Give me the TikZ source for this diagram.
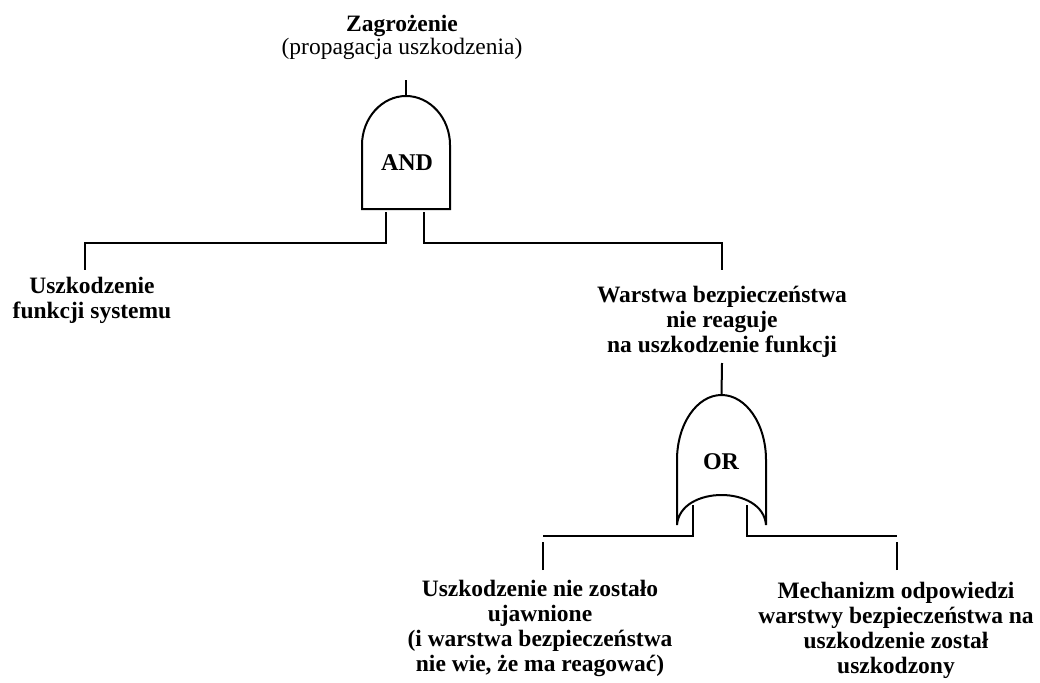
\documentclass[tikz,border=0pt]{standalone}
\usepackage{fontspec}
\setmainfont{Liberation Serif}

\begin{document}
\begin{tikzpicture}[x=1pt,y=-1pt,
    font=\fontsize{23.5}{25}\selectfont,
    line/.style={black,line width=2pt},
    event/.style={align=center,inner sep=0pt,font=\bfseries\fontsize{23.5}{25}\selectfont},
    gatetext/.style={inner sep=0pt,font=\bfseries\fontsize{24}{24}\selectfont}]

      \useasboundingbox (0,0) rectangle (1040,682);

      % AND gate
      \draw[line] (362,209) -- (362,145) .. controls (362,118) and (382,96) .. (406,96)
                  .. controls (430,96) and (450,118) .. (450,145) -- (450,209) -- cycle;
      \node[gatetext] (and) at (407,162.5) {AND};
      \coordinate (and-out) at (406,96);
      \coordinate (and-in1) at (386,212);
      \coordinate (and-in2) at (424,212);

      % OR gate
      \draw[line] (677,525) -- (677,460) .. controls (677,424) and (697,395) .. (721.5,395)
                  .. controls (746,395) and (766,424) .. (766,460) -- (766,525)
                  .. controls (763,485) and (680,485) .. cycle;
      \node[gatetext] (or) at (721,462) {OR};
      \coordinate (or-out) at (721.5,395);
      \coordinate (or-in1) at (693,505);
      \coordinate (or-in2) at (747,505);

      % events
      \node[event,anchor=north,font=\bfseries\fontsize{23.5}{23}\selectfont] (top) at (402,15) {Zagrożenie\\\mdseries (propagacja uszkodzenia)};
      \node[event,anchor=north] (ufs) at (92,277) {Uszkodzenie\\funkcji systemu};
      \node[event,anchor=north] (wbn) at (722,286) {Warstwa bezpieczeństwa\\nie reaguje\\na uszkodzenie funkcji};
      \node[event,anchor=north] (unz) at (540,580) {Uszkodzenie nie zostało\\ujawnione\\(i warstwa bezpieczeństwa\\nie wie, że ma reagować)};
      \node[event,anchor=north] (mow) at (896,582) {Mechanizm odpowiedzi\\warstwy bezpieczeństwa na\\uszkodzenie został\\uszkodzony};

      \coordinate (top-end) at (406,80);
      \coordinate (ufs-end) at (85,270);
      \coordinate (wbn-end) at (722,270);
      \coordinate (wbn-out) at (722,363);
      \coordinate (unz-end) at (543,570);
      \coordinate (mow-end) at (897,570);
      \coordinate (orbar) at (0,536);

      % connectors
      \draw[line] (and-out) -- (top-end);
      \draw[line] (and-in1) -- ++(0,31) -| (ufs-end);
      \draw[line] (and-in2) -- ++(0,31) -| (wbn-end);
      \draw[line] (wbn-out) -- (or-out);
      \draw[line] (or-in1) |- (unz-end |- orbar);
      \draw[line] (or-in2) |- (mow-end |- orbar);
      \draw[line] (unz-end) -- ++(0,-28);
      \draw[line] (mow-end) -- ++(0,-28);

    \end{tikzpicture}
\end{document}
